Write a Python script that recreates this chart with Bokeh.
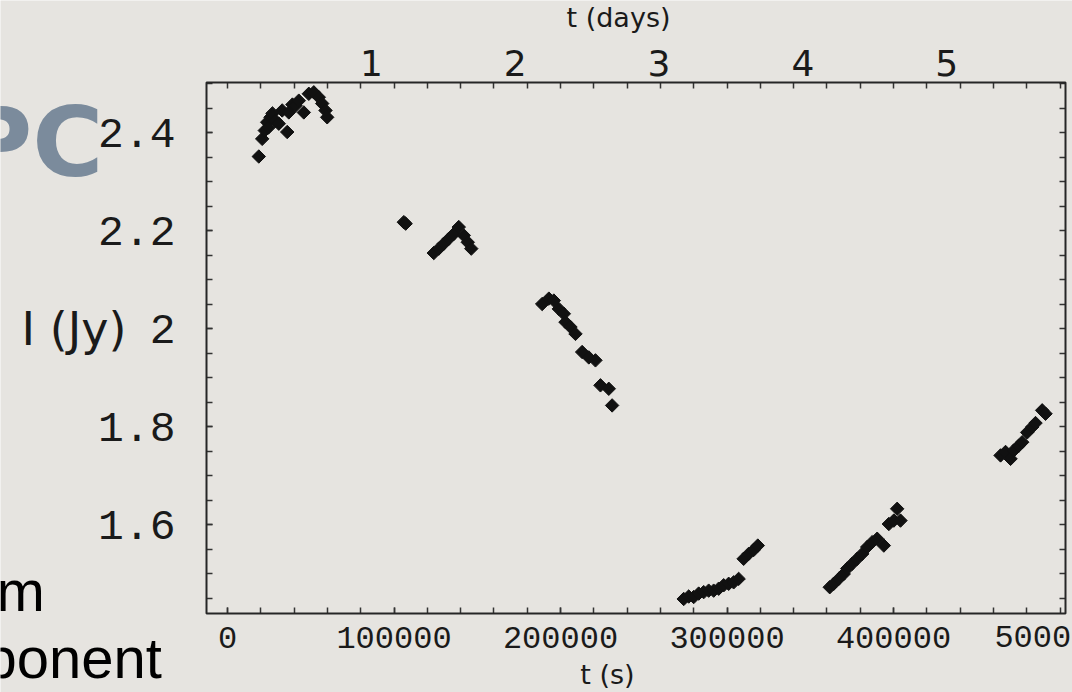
import math
from bokeh.plotting import figure
from bokeh.models import (Range1d, LinearAxis, FixedTicker, BasicTickFormatter,
                          Label, BoxAnnotation)
from bokeh.embed import file_html
from bokeh.resources import INLINE

# Total intensity I (Jy) against time t (s), six observing runs
run1_t = [18800, 20840, 22400, 23840, 24600, 25830, 27000, 28830, 30810, 32850,
          35860, 36820, 39000, 40840, 42820, 45830, 48830, 51830, 54830, 56880,
          58860, 59880]
run1_i = [2.351, 2.387, 2.404, 2.421, 2.410, 2.431, 2.439, 2.424, 2.418, 2.445,
          2.401, 2.441, 2.457, 2.455, 2.465, 2.441, 2.479, 2.482, 2.472, 2.459,
          2.445, 2.431]

run2_t = [105900, 107000, 123900, 126900, 129900, 132900, 135900, 138900, 141900,
          144300, 146400]
run2_i = [2.217, 2.214, 2.154, 2.163, 2.173, 2.183, 2.193, 2.207, 2.190, 2.176, 2.163]

run3_t = [189000, 193000, 196000, 199000, 202000, 203000, 206000, 209000, 213000,
          217000, 221000, 224000, 229000, 231000]
run3_i = [2.050, 2.061, 2.057, 2.040, 2.030, 2.013, 2.003, 1.989, 1.952, 1.941,
          1.935, 1.884, 1.877, 1.843]

run4_t = [274000, 277000, 280000, 283000, 286000, 289000, 292000, 295000, 298000,
          301000, 304000, 307000, 310000, 313000, 316000, 318500]
run4_i = [1.448, 1.453, 1.452, 1.459, 1.462, 1.465, 1.465, 1.469, 1.476, 1.479,
          1.482, 1.489, 1.530, 1.540, 1.548, 1.557]

run5_t = [361700, 364100, 367100, 370100, 372200, 375200, 378200, 381200, 384200,
          387200, 390200, 394200, 397200, 400200, 402200, 404200]
run5_i = [1.472, 1.479, 1.489, 1.499, 1.510, 1.520, 1.530, 1.540, 1.554, 1.564,
          1.571, 1.557, 1.601, 1.608, 1.632, 1.608]

run6_t = [464300, 467300, 470300, 472200, 475300, 477300, 480300, 483300, 485300,
          489300, 491300]
run6_i = [1.741, 1.748, 1.734, 1.751, 1.761, 1.768, 1.788, 1.799, 1.807, 1.833, 1.826]

# Axis ticks (the last bottom label runs off the page edge, so it is drawn apart)
x_major = [0, 100000, 200000, 300000, 400000]
x_edge_tick = 500000
x_minor = [20000 * k for k in range(26)]
y_major = [1.6, 1.8, 2.0, 2.2, 2.4]
y_labels = ["1.6", "1.8", "2", "2.2", "2.4"]
y_minor = [round(1.45 + 0.05 * k, 2) for k in range(22)]
day_major = [1, 2, 3, 4, 5]
SECONDS_PER_DAY = 86400

# Page geometry: the whole canvas is one data frame; the chart box sits inside it
W, H = 1072, 692
SX = 100000 / 166.5          # seconds per pixel
SY = 1 / 490.0               # Jy per pixel
XL, XR = -227 * SX, (W - 227) * SX
YT, YB = 2 + 328 * SY, 2 - (H - 328) * SY


def px_x(px):
    return XL + px * SX


def px_y(py):
    return YT - py * SY


def baseline_y(py, font_px):
    # Label text sits about a third of an em below its anchor
    return px_y(py - 0.35 * font_px)


# chart box (data limits of the plotted region)
X0, X1 = px_x(206), px_x(1065)
Y0, Y1 = px_y(613), px_y(82)

BG = "#e6e4e0"
INK = "#1a1a1a"
MONO = "Liberation Mono"
SANS = "DejaVu Sans"

p = figure(width=W, height=H,
           x_range=Range1d(XL, XR), y_range=Range1d(YB, YT),
           x_axis_type=None, y_axis_type=None,
           output_backend="svg", toolbar_location=None,
           min_border=0, min_border_left=0, min_border_right=0,
           min_border_top=0, min_border_bottom=0,
           background_fill_color=BG, border_fill_color=BG,
           outline_line_color=None)

p.extra_x_ranges = {"days": Range1d(XL / SECONDS_PER_DAY, XR / SECONDS_PER_DAY)}


def style(axis):
    axis.axis_line_color = None
    axis.major_tick_in = 6
    axis.major_tick_out = 0
    axis.minor_tick_in = 6
    axis.minor_tick_out = 0
    axis.major_tick_line_color = "#333333"
    axis.minor_tick_line_color = "#333333"
    axis.major_tick_line_width = 1.5
    axis.minor_tick_line_width = 1.5
    axis.major_label_text_color = INK


left = LinearAxis(ticker=FixedTicker(ticks=y_major, minor_ticks=y_minor),
                  major_label_overrides=dict(zip(y_major, y_labels)),
                  fixed_location=X0)
style(left)
left.major_label_text_font = MONO
left.major_label_text_font_size = "43px"
left.major_label_standoff = 31
p.add_layout(left, "left")

bottom = LinearAxis(ticker=FixedTicker(ticks=x_major, minor_ticks=x_minor),
                    formatter=BasicTickFormatter(use_scientific=False),
                    fixed_location=Y0)
style(bottom)
bottom.major_label_text_font = MONO
bottom.major_label_text_font_size = "32px"
bottom.major_label_standoff = 13
p.add_layout(bottom, "below")

top = LinearAxis(x_range_name="days",
                 ticker=FixedTicker(ticks=day_major,
                                    minor_ticks=[20000 * k / SECONDS_PER_DAY for k in range(26)]),
                 fixed_location=Y1)
style(top)
top.major_tick_in = 0
top.major_label_text_font = SANS
top.major_label_text_font_size = "36px"
top.major_label_standoff = 7
p.add_layout(top, "above")

right = LinearAxis(ticker=FixedTicker(ticks=[], minor_ticks=y_minor),
                   fixed_location=X1)
style(right)
p.add_layout(right, "right")

# frame around the chart box
p.add_layout(BoxAnnotation(left=X0, right=X1, bottom=Y0, top=Y1,
                           fill_color=None, fill_alpha=0,
                           line_color="#262626", line_width=2, line_alpha=1))

for ts, fl in [(run1_t, run1_i), (run2_t, run2_i), (run3_t, run3_i),
               (run4_t, run4_i), (run5_t, run5_i), (run6_t, run6_i)]:
    p.scatter(ts, fl, marker="square", angle=math.pi / 4, size=9.5,
              fill_color="#111111", line_color="#111111")

# last bottom tick label, cut by the page edge
p.add_layout(Label(x=x_edge_tick, y=baseline_y(647, 32), x_offset=-8,
                   text=str(x_edge_tick), text_align="center",
                   text_baseline="alphabetic", text_font=MONO,
                   text_font_size="32px", text_color=INK))

# Axis titles
p.add_layout(Label(x=px_x(618), y=baseline_y(26, 27), text="t (days)",
                   text_align="center", text_baseline="alphabetic", text_font=SANS,
                   text_font_size="27px", text_color=INK))
p.add_layout(Label(x=px_x(607), y=baseline_y(683, 27), text="t (s)",
                   text_align="center", text_baseline="alphabetic", text_font=SANS,
                   text_font_size="27px", text_color=INK))
p.add_layout(Label(x=px_x(21), y=baseline_y(345, 46), text="I (Jy)",
                   text_align="left", text_baseline="alphabetic", text_font=SANS,
                   text_font_size="46px", text_color=INK))

# Slide text around the chart
p.add_layout(Label(x=px_x(103), y=baseline_y(176, 97), text="PC", text_align="right",
                   text_baseline="alphabetic", text_font=SANS,
                   text_font_size="97px", text_font_style="bold",
                   text_color="#7b8b9c"))
p.add_layout(Label(x=px_x(-4), y=baseline_y(610, 58), text="m", text_align="left",
                   text_baseline="alphabetic", text_font="Liberation Sans",
                   text_font_size="58px", text_color="#000000"))
p.add_layout(Label(x=px_x(-16), y=baseline_y(677, 58), text="ponent", text_align="left",
                   text_baseline="alphabetic", text_font="Liberation Sans",
                   text_font_size="58px", text_color="#000000"))

open("out.html", "w").write(file_html(p, INLINE))
